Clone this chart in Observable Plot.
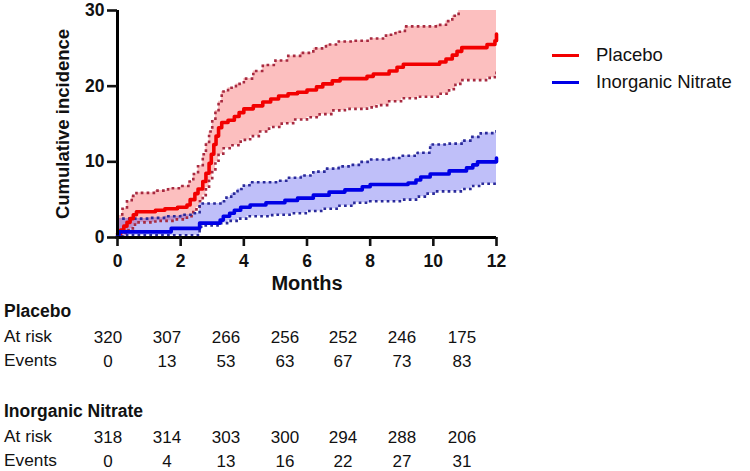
<!DOCTYPE html>
<html>
<head>
<meta charset="utf-8">
<script src="https://cdn.jsdelivr.net/npm/d3@7"></script>
<script src="https://cdn.jsdelivr.net/npm/@observablehq/plot@0.6"></script>
<style>
  html, body { margin: 0; padding: 0; background: #fff; }
  #wrap { position: relative; width: 750px; height: 471px; font-family: "Liberation Sans", Arial, sans-serif; color: #111; }
  #chart svg { display: block; }
  .abs { position: absolute; white-space: nowrap; line-height: 1; }
</style>
</head>
<body>
<div id="wrap"><div id="chart"></div></div>
<script>
// ---- Data ----
const seriesNames = ["Placebo", "Inorganic Nitrate"];
const seriesColors = ["#f20000", "#0000e6"];
const ciColors = ["#a82a40", "#2a2a9c"];
const xTicks = [0, 2, 4, 6, 8, 10, 12];
const yTicks = [0, 10, 20, 30];

// [month, cumulative incidence] step points (step-after)
const placeboEstimate = [[0,0.5],[0.1,1.0],[0.2,1.5],[0.3,2.0],[0.4,2.5],[0.5,3.0],[0.6,3.4],[1.2,3.6],[1.5,3.8],[1.9,4.0],[2.2,4.3],[2.3,5.0],[2.45,5.8],[2.55,6.4],[2.7,7.4],[2.8,8.5],[2.9,9.8],[2.97,11.0],[3.05,12.3],[3.12,13.4],[3.2,14.5],[3.3,15.2],[3.5,15.5],[3.7,16.0],[3.85,16.5],[4.0,17.0],[4.3,17.4],[4.6,17.9],[4.85,18.3],[5.1,18.7],[5.4,19.0],[5.7,19.2],[6.0,19.5],[6.3,19.9],[6.5,20.3],[6.8,20.7],[7.05,21.0],[7.9,21.3],[8.1,21.6],[8.6,22.0],[8.85,22.5],[9.05,22.9],[10.2,23.2],[10.4,23.6],[10.6,24.1],[10.75,24.6],[10.9,25.1],[11.7,25.5],[11.95,26.0],[12,26.9]];
const placeboUpper = [[0,2.9],[0.15,3.8],[0.3,4.8],[0.45,5.5],[0.6,5.9],[1.2,6.2],[1.6,6.5],[2.0,6.8],[2.25,7.4],[2.4,8.4],[2.55,9.5],[2.7,11.0],[2.8,12.5],[2.9,14.0],[3.0,15.5],[3.1,16.8],[3.2,18.0],[3.3,19.3],[3.5,19.8],[3.75,20.3],[4.0,21.0],[4.3,22.0],[4.6,22.8],[5.0,23.4],[5.4,24.0],[5.8,24.4],[6.2,25.0],[6.6,25.5],[7.0,25.9],[7.5,26.0],[8.0,26.3],[8.5,26.8],[8.8,27.2],[9.1,27.9],[10.1,28.1],[10.4,28.6],[10.6,29.3],[10.8,30.5],[11.0,31.5],[12,31.5]];
const placeboLower = [[0,0.1],[0.2,0.6],[0.35,1.2],[0.5,1.7],[0.65,2.0],[1.2,2.2],[1.8,2.4],[2.2,2.8],[2.4,3.4],[2.5,4.0],[2.6,4.8],[2.7,5.6],[2.8,6.6],[2.9,7.7],[3.0,8.8],[3.1,10.0],[3.2,11.0],[3.35,11.8],[3.6,12.2],[3.9,12.9],[4.2,13.4],[4.5,14.0],[4.8,14.6],[5.2,15.1],[5.6,15.6],[6.0,15.9],[6.4,16.3],[6.8,16.8],[7.2,17.0],[7.9,17.2],[8.2,17.5],[8.6,18.0],[9.0,18.4],[9.5,18.6],[10.2,19.0],[10.5,19.6],[10.7,20.3],[10.9,20.8],[11.7,21.1],[11.95,21.4],[12,22.3]];

const nitrateEstimate = [[0,0.3],[0.05,0.75],[1.7,1.2],[2.6,1.9],[3.25,2.3],[3.35,2.8],[3.55,3.2],[3.7,3.6],[3.9,4.0],[4.2,4.3],[4.7,4.6],[5.3,4.9],[5.7,5.2],[6.2,5.6],[6.7,6.0],[7.2,6.3],[7.75,6.7],[8.0,7.0],[9.2,7.2],[9.45,7.6],[9.6,8.0],[9.9,8.4],[10.5,8.8],[11.05,9.2],[11.25,9.6],[11.4,10.0],[12,10.5]];
const nitrateUpper = [[0,2.5],[1.0,2.6],[1.5,2.8],[2.0,3.0],[2.4,3.2],[2.6,4.5],[3.3,4.8],[3.45,5.3],[3.6,5.8],[3.8,6.4],[4.0,6.9],[4.2,7.3],[5.1,7.5],[5.4,7.9],[5.8,8.2],[6.2,8.7],[6.6,9.1],[7.0,9.4],[7.4,9.6],[7.7,10.0],[8.0,10.3],[8.6,10.5],[9.0,10.8],[9.5,11.2],[9.9,12.3],[10.5,12.4],[10.9,12.8],[11.2,13.3],[11.5,13.8],[12,14.3]];
const nitrateLower = [[0,0.0],[0.15,0.3],[2.6,1.2],[2.65,1.6],[3.2,1.9],[3.5,2.2],[3.8,2.5],[4.1,2.8],[4.9,3.0],[5.5,3.2],[6.0,3.5],[6.5,3.8],[7.0,4.2],[7.5,4.6],[8.0,4.8],[9.0,5.0],[9.5,5.4],[9.8,5.8],[10.1,6.1],[10.9,6.4],[11.2,6.8],[11.5,7.1],[12,7.5]];

// Risk table
const tableMonths = [0, 2, 4, 6, 8, 10, 12];
const placeboAtRisk = [320, 307, 266, 256, 252, 246, 175];
const placeboEvents = [0, 13, 53, 63, 67, 73, 83];
const nitrateAtRisk = [318, 314, 303, 300, 294, 288, 206];
const nitrateEvents = [0, 4, 13, 16, 22, 27, 31];

// ---- Helpers ----
function stepAt(series, t) {
  let v = series[0][1];
  for (const [ti, vi] of series) if (ti <= t) v = vi;
  return v;
}
function band(lower, upper) {
  const ts = [...new Set([...lower, ...upper].map(d => d[0]))].sort((a, b) => a - b);
  return ts.map(t => ({t, lo: stepAt(lower, t), hi: stepAt(upper, t)}));
}
const FONT = '"Liberation Sans", Arial, sans-serif';

const groups = [
  {est: placeboEstimate, lo: placeboLower, hi: placeboUpper, c: seriesColors[0], ci: ciColors[0]},
  {est: nitrateEstimate, lo: nitrateLower, hi: nitrateUpper, c: seriesColors[1], ci: ciColors[1]}
];

const marks = [];
for (const g of groups) {
  marks.push(Plot.areaY(band(g.lo, g.hi), {x: "t", y1: "lo", y2: "hi", curve: "step-after", fill: g.c, fillOpacity: 0.25, clip: true}));
}
for (const g of groups) {
  for (const s of [g.lo, g.hi]) {
    marks.push(Plot.line(s, {x: d => d[0], y: d => d[1], curve: "step-after", stroke: g.ci, strokeWidth: 2.6, strokeDasharray: "0.1,5.8", strokeLinecap: "square", clip: true}));
  }
}
for (const g of groups) {
  marks.push(Plot.line(g.est, {x: d => d[0], y: d => d[1], curve: "step-after", stroke: g.c, strokeWidth: 3.6}));
}

marks.push(
  Plot.ruleX([0], {stroke: "#000", strokeWidth: 3, y1: 0, y2: 30, insetTop: -1.5}),
  Plot.ruleY([0], {stroke: "#000", strokeWidth: 3, x1: 0, x2: 12, insetLeft: -1.5}),
  Plot.axisX({ticks: xTicks, tickSize: 9, tickPadding: 8, strokeWidth: 2.6, fontSize: 17.5, fontWeight: "bold", label: null, tickFormat: d => d}),
  Plot.axisY({ticks: yTicks, tickSize: 10, tickPadding: 3, strokeWidth: 2.6, fontSize: 17.5, fontWeight: "bold", label: null, tickFormat: d => d}),
  Plot.text(["Cumulative incidence"], {frameAnchor: "left", textAnchor: "middle", lineAnchor: "middle", dx: -54, rotate: -90, fontSize: 18.5, fontWeight: "bold", fill: "#111"}),
  Plot.text(["Months"], {frameAnchor: "bottom", dy: 52, fontSize: 20, fontWeight: "bold", fill: "#111"})
);

const chart = Plot.plot({
  width: 750,
  height: 300,
  marginLeft: 117,
  marginRight: 254,
  marginTop: 10,
  marginBottom: 63,
  style: {fontFamily: FONT, color: "#111", background: "#fff", overflow: "visible"},
  x: {domain: [0, 12]},
  y: {domain: [0, 30]},
  marks
});
document.getElementById("chart").appendChild(chart);

// ---- Legend (HTML, right of plot) ----
const wrap = document.getElementById("wrap");
function addDiv(text, left, baseline, size, weight, align) {
  const d = document.createElement("div");
  d.className = "abs";
  d.textContent = text;
  d.style.fontSize = size + "px";
  d.style.fontWeight = weight;
  d.style.top = (baseline - 0.8465 * size) + "px";
  if (align === "center") {
    d.style.left = (left - 60) + "px";
    d.style.width = "120px";
    d.style.textAlign = "center";
  } else {
    d.style.left = left + "px";
  }
  wrap.appendChild(d);
}
seriesNames.forEach((name, i) => {
  const y = 55 + i * 27;
  const sw = document.createElement("div");
  sw.className = "abs";
  Object.assign(sw.style, {left: "552px", top: (y - 1.5) + "px", width: "27px", height: "3px", background: seriesColors[i]});
  wrap.appendChild(sw);
  addDiv(name, 596, y + 6.8, 18.5, "normal");
});

// ---- Risk table ----
const colX = [108, 167, 226, 285, 343, 402, 462];
const tableBlocks = [
  {title: seriesNames[0], atRisk: placeboAtRisk, events: placeboEvents, base: 318},
  {title: seriesNames[1], atRisk: nitrateAtRisk, events: nitrateEvents, base: 418}
];
for (const b of tableBlocks) {
  addDiv(b.title, 4, b.base, 17.5, "bold");
  addDiv("At risk", 4, b.base + 25, 17.3, "normal");
  addDiv("Events", 4, b.base + 49, 17.3, "normal");
  tableMonths.forEach((m, i) => {
    addDiv(String(b.atRisk[i]), colX[i], b.base + 25, 17, "normal", "center");
    addDiv(String(b.events[i]), colX[i], b.base + 49, 17, "normal", "center");
  });
}
</script>
</body>
</html>
